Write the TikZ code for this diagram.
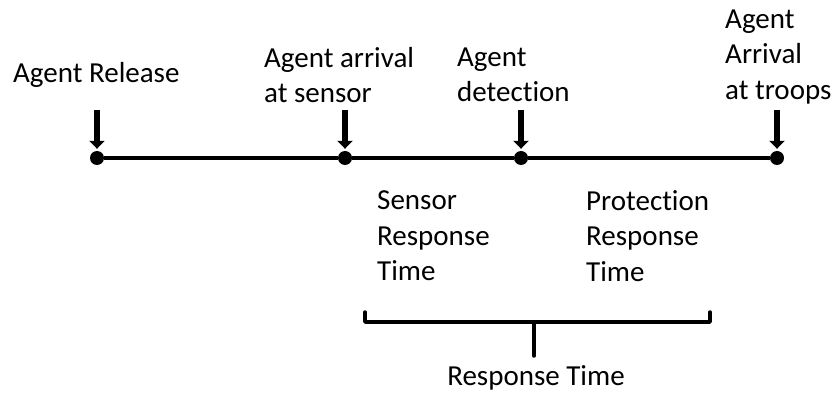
\documentclass[tikz,border=0pt]{standalone}
\usepackage{fontspec}
\setmainfont[Ligatures=NoCommon]{Carlito}
\usetikzlibrary{arrows.meta}
\usetikzlibrary{positioning}

\begin{document}
\begin{tikzpicture} [
          x=1pt, y=-1pt,
          every node/.style = {font=\fontsize{29}{35.5}\selectfont},
          tick/.style = {circle, fill=black, inner sep=0pt, minimum size=14pt},
          label text/.style = {align=left, anchor=west, inner sep=0pt},
          drop/.style = {line width=6pt, -{Triangle[width=15pt,length=8pt]}, shorten >=2pt},
          timeline/.style = {line width=3.5pt},
          bracket/.style = {line width=3.5pt, line cap=round, line join=round}
          ]
          \useasboundingbox (0,0) rectangle (837,395);
          % dots on the time line
          \node[tick] (release) at (97,158) {};
          \node[tick] (sensor) at (345,158) {};
          \node[tick] (detect) at (521,158) {};
          \node[tick] (troops) at (777,158) {};
          \draw[timeline] (release) -- (sensor) -- (detect) -- (troops);
          % labels above
          \node[label text] (l1) at (13,75) {Agent Release};
          \node[label text] (l2) at (264,75) {Agent arrival\\at sensor};
          \node[label text] (l3) at (457,75) {Agent\\detection};
          \node[label text] (l4) at (725,57) {Agent\\Arrival\\at troops};
          % arrows
          \coordinate (a1) at (97,110);
          \coordinate (a2) at (345,110);
          \coordinate (a3) at (521,110);
          \coordinate (a4) at (777,110);
          \draw[drop] (a1) -- (release.north);
          \draw[drop] (a2) -- (sensor.north);
          \draw[drop] (a3) -- (detect.north);
          \draw[drop] (a4) -- (troops.north);
          % labels below
          \node[label text] (s) at (377,236) {Sensor\\Response\\Time};
          \node[label text] (p) at (586,236) {Protection\\Response\\Time};
          \draw[bracket] (365,312) -- (365,322) -- (710,322) -- (710,312);
          \draw[bracket] (534,322) -- (534,356);
          \node (resp) at (536,378) {Response Time};
        \end{tikzpicture}
\end{document}
